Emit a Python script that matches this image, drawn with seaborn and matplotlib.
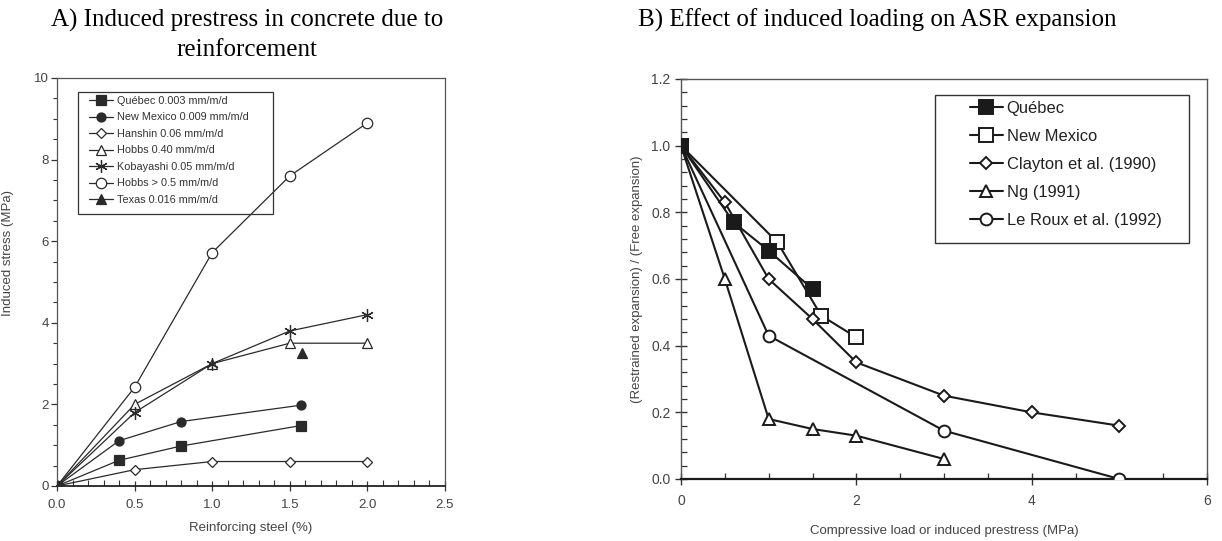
import matplotlib
matplotlib.use("Agg")
import matplotlib.pyplot as plt
import seaborn as sns
import numpy as np
from matplotlib.ticker import MultipleLocator, FormatStrFormatter
from matplotlib.patches import Rectangle

sns.set_theme(style="white")
plt.rcParams['font.family'] = ['Liberation Sans', 'DejaVu Sans']

# ---------------- Data: panel A ----------------
a_quebec_x = [0.0, 0.4, 0.8, 1.57]
a_quebec_y = [0.0, 0.63, 0.98, 1.48]
a_newmex_x = [0.0, 0.4, 0.8, 1.57]
a_newmex_y = [0.0, 1.11, 1.58, 1.98]
a_hanshin_x = [0.0, 0.5, 1.0, 1.5, 2.0]
a_hanshin_y = [0.0, 0.40, 0.60, 0.60, 0.60]
a_hobbs_x = [0.0, 0.5, 1.0, 1.5, 2.0]
a_hobbs_y = [0.0, 2.0, 3.0, 3.5, 3.5]
a_koba_x = [0.0, 0.5, 1.0, 1.5, 2.0]
a_koba_y = [0.0, 1.8, 3.0, 3.8, 4.2]
a_hobbs5_x = [0.0, 0.5, 1.0, 1.5, 2.0]
a_hobbs5_y = [0.0, 2.42, 5.72, 7.6, 8.9]
a_texas_x = [1.58]
a_texas_y = [3.25]
a_labels = ["Québec 0.003 mm/m/d", "New Mexico 0.009 mm/m/d", "Hanshin 0.06 mm/m/d",
            "Hobbs 0.40 mm/m/d", "Kobayashi 0.05 mm/m/d", "Hobbs > 0.5 mm/m/d",
            "Texas 0.016 mm/m/d"]

# ---------------- Data: panel B ----------------
b_quebec_x = [0.0, 0.6, 1.0, 1.5]
b_quebec_y = [1.0, 0.77, 0.685, 0.57]
b_newmex_x = [0.0, 1.1, 1.6, 2.0]
b_newmex_y = [1.0, 0.71, 0.49, 0.425]
b_clayton_x = [0.0, 0.5, 1.0, 1.5, 2.0, 3.0, 4.0, 5.0]
b_clayton_y = [1.0, 0.83, 0.60, 0.48, 0.35, 0.25, 0.20, 0.16]
b_ng_x = [0.0, 0.5, 1.0, 1.5, 2.0, 3.0]
b_ng_y = [1.0, 0.60, 0.18, 0.15, 0.13, 0.06]
b_leroux_x = [0.0, 1.0, 3.0, 5.0]
b_leroux_y = [1.0, 0.43, 0.145, 0.0]
b_labels = ["Québec", "New Mexico", "Clayton et al. (1990)", "Ng (1991)", "Le Roux et al. (1992)"]

fig = plt.figure(figsize=(12.22, 5.41), dpi=100)
W, H = 1222, 541
axA = fig.add_axes([57 / W, (H - 486) / H, 388 / W, 408 / H])
axB = fig.add_axes([681 / W, (H - 479) / H, 526 / W, 400 / H])

lc = "#2a2a2a"
# Panel A series
specA = [
    (a_quebec_x, a_quebec_y, dict(marker="s", mfc=lc, ms=6.5, z=5)),
    (a_newmex_x, a_newmex_y, dict(marker="o", mfc=lc, ms=6.5, z=3)),
    (a_hanshin_x, a_hanshin_y, dict(marker="D", mfc="white", ms=5, z=2)),
    (a_hobbs_x, a_hobbs_y, dict(marker="^", mfc="white", ms=7, z=2)),
    (a_koba_x, a_koba_y, dict(marker=(6, 2, 0), mfc=lc, ms=9, z=2)),
    (a_hobbs5_x, a_hobbs5_y, dict(marker="o", mfc="white", ms=7.5, z=2)),
    (a_texas_x, a_texas_y, dict(marker="^", mfc=lc, ms=7, z=3)),
]
for (xs, ys, mk), lab in zip(specA, a_labels):
    sns.lineplot(x=xs, y=ys, ax=axA, color=lc, lw=0.9, label=lab,
                 marker=mk["marker"], markersize=mk["ms"], markerfacecolor=mk["mfc"],
                 markeredgecolor=lc, markeredgewidth=0.9, sort=False, zorder=mk["z"])

axA.set_xlim(0, 2.5)
axA.set_ylim(0, 10)
axA.xaxis.set_major_locator(MultipleLocator(0.5))
axA.xaxis.set_minor_locator(MultipleLocator(0.1))
axA.yaxis.set_major_locator(MultipleLocator(2))
axA.yaxis.set_minor_locator(MultipleLocator(0.5))
axA.xaxis.set_major_formatter(FormatStrFormatter("%.1f"))
axA.tick_params(axis="both", which="both", bottom=True, left=True, colors="#333333",
                labelsize=9.5, labelcolor="#444444")
axA.tick_params(axis="x", which="major", direction="inout", length=7, width=0.9, pad=6)
axA.tick_params(axis="x", which="minor", direction="in", length=4, width=0.8)
axA.tick_params(axis="y", which="major", direction="out", length=4, width=0.9, pad=2)
axA.tick_params(axis="y", which="minor", direction="out", length=3, width=0.8)
axA.set_xlabel("Reinforcing steel (%)", fontsize=9.5, color="#444444", labelpad=8)
axA.set_ylabel("Induced stress (MPa)", fontsize=9.5, color="#444444", labelpad=12)
axA.yaxis.set_label_coords(-0.11, 0.571)
for s in axA.spines.values():
    s.set_color("#555555")
    s.set_linewidth(0.9)
axA.spines["bottom"].set_color("#222222")
axA.spines["bottom"].set_linewidth(1.3)
legA = axA.legend(loc="upper left", bbox_to_anchor=(0.082, 0.956), fontsize=7.8,
                  frameon=False, handlelength=2.2, handletextpad=0.37,
                  labelspacing=0.6, borderpad=0, borderaxespad=0)
for t in legA.get_texts():
    t.set_color("#333333")
axA.add_patch(Rectangle((0.054, 0.667), 0.503, 0.299, transform=axA.transAxes,
                        facecolor="none", edgecolor="#333333", lw=0.9, zorder=4))
legA.set_zorder(6)

# Panel B series
bc = "#1a1a1a"
specB = [
    (b_quebec_x, b_quebec_y, dict(marker="s", mfc=bc, ms=10, z=6)),
    (b_newmex_x, b_newmex_y, dict(marker="s", mfc="white", ms=9.5, z=3)),
    (b_clayton_x, b_clayton_y, dict(marker="D", mfc="white", ms=6.5, z=3)),
    (b_ng_x, b_ng_y, dict(marker="^", mfc="white", ms=9, z=3)),
    (b_leroux_x, b_leroux_y, dict(marker="o", mfc="white", ms=8.5, z=3)),
]
for (xs, ys, mk), lab in zip(specB, b_labels):
    sns.lineplot(x=xs, y=ys, ax=axB, color=bc, lw=1.5, label=lab,
                 marker=mk["marker"], markersize=mk["ms"], markerfacecolor=mk["mfc"],
                 markeredgecolor=bc, markeredgewidth=1.4, sort=False, zorder=mk["z"])

axB.set_xlim(0, 6)
axB.set_ylim(0, 1.2)
axB.xaxis.set_major_locator(MultipleLocator(2))
axB.xaxis.set_minor_locator(MultipleLocator(0.5))
axB.yaxis.set_major_locator(MultipleLocator(0.2))
axB.yaxis.set_minor_locator(MultipleLocator(0.04))
axB.yaxis.set_major_formatter(FormatStrFormatter("%.1f"))
axB.tick_params(axis="both", which="both", bottom=True, left=True, colors="#333333",
                labelsize=10, labelcolor="#444444")
axB.tick_params(axis="both", which="major", direction="inout", length=8, width=1.0)
axB.tick_params(axis="x", which="major", pad=7)
axB.tick_params(axis="both", which="minor", direction="in", length=4, width=0.9)
axB.set_xlabel("Compressive load or induced prestress (MPa)", fontsize=9.5,
               color="#444444", labelpad=12)
axB.set_ylabel("(Restrained expansion) / (Free expansion)", fontsize=9.5,
               color="#444444", labelpad=6)
for s in axB.spines.values():
    s.set_color("#555555")
    s.set_linewidth(1.0)
axB.spines["bottom"].set_color("#1a1a1a")
axB.spines["bottom"].set_linewidth(1.6)
legB = axB.legend(loc="upper left", bbox_to_anchor=(0.55, 0.945), fontsize=11.9,
                  frameon=False, handlelength=1.95, handletextpad=0.25,
                  labelspacing=0.78, borderpad=0, borderaxespad=0)
for t in legB.get_texts():
    t.set_color("#222222")
axB.add_patch(Rectangle((0.483, 0.59), 0.483, 0.37, transform=axB.transAxes,
                        facecolor="white", edgecolor="#333333", lw=1.0, zorder=4))
legB.set_zorder(7)

# Titles
serif = ['Liberation Serif', 'DejaVu Serif']
fig.text(247 / W, 1 - 20 / H, "A) Induced prestress in concrete due to", ha="center",
         va="center", fontsize=18, family=serif, color="black")
fig.text(247 / W, 1 - 50 / H, "reinforcement", ha="center", va="center",
         fontsize=18, family=serif, color="black")
fig.text(877 / W, 1 - 20 / H, "B) Effect of induced loading on ASR expansion", ha="center",
         va="center", fontsize=18, family=serif, color="black")

fig.savefig("out.png", dpi=100, facecolor="white")
